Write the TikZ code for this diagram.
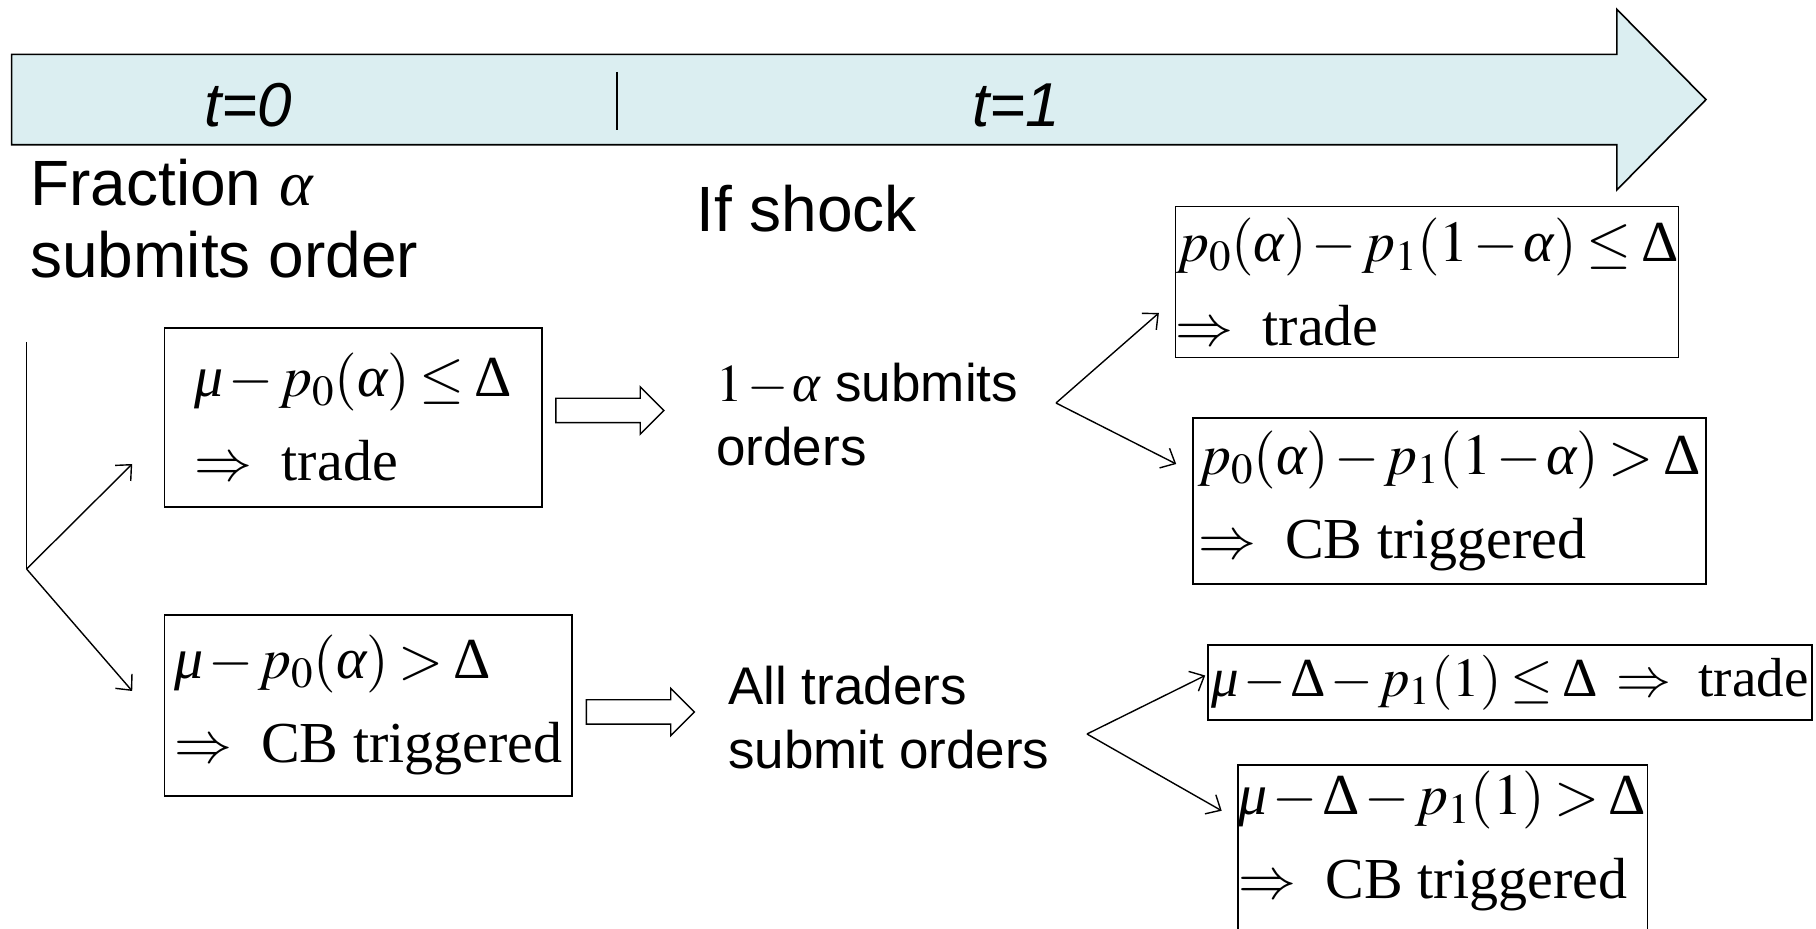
\documentclass[tikz,border=0pt]{standalone}
\usepackage{mathptmx}
\usepackage{fontspec}
\setmainfont{Liberation Serif}
\setsansfont{Liberation Sans}
\usetikzlibrary{arrows.meta,positioning,calc,shapes.arrows}

\definecolor{timefill}{RGB}{219,238,241}
% tighter spacing round - and <=, as in the formulas of the slide
\medmuskip=1.5mu
\thickmuskip=3mu
% Greek letters taken from the Times-like text face
\newcommand\galpha{\mbox{\rmfamily\itshape α}}
\newcommand\gmu{\mbox{\rmfamily\itshape μ}}
\newcommand\gDelta{\mbox{\rmfamily Δ}}

\begin{document}
\begin{tikzpicture}[
  x=0.5pt, y=-0.5pt,
  every node/.style={inner sep=0pt},
  lbl/.style={font=\sffamily\fontsize{32}{36}\selectfont,align=left,anchor=base west},
  small lbl/.style={lbl,font=\sffamily\fontsize{26.5}{32}\selectfont},
  tlab/.style={font=\sffamily\itshape\fontsize{31}{36}\selectfont,anchor=base},
  cond/.style={draw,line width=0.8pt,align=left,font=\rmfamily\fontsize{29}{42}\selectfont},
  arr/.style={-{Straight Barb[length=6pt,width=11pt]},line width=0.7pt},
  fatarr/.style={draw,line width=0.7pt,single arrow,single arrow head extend=5.75pt,
    inner xsep=0pt,inner ysep=5.75pt,minimum height=54pt}
]
\useasboundingbox (0,0) rectangle (1816,929);

% ---------- time line ----------
\draw[line width=0.8pt,fill=timefill] (11.6,54.4) -- (1616.8,54.4) -- (1616.8,9.3)
  -- (1706,99.6) -- (1616.8,190) -- (1616.8,144.8) -- (11.6,144.8) -- cycle;
\draw[line width=0.8pt] (617,72) -- (617,130);
\node[tlab] (t0) at (248,127) {t=0};
\node[tlab] (t1) at (1016,127) {t=1};

% ---------- t=0 ----------
\node[lbl] (frac) at (30,278) {Fraction $\galpha$\\submits order};
\coordinate (stem) at (26.6,342);
\coordinate (fork) at (26.6,569);

\node[cond,minimum width=188.75pt,minimum height=89.5pt] (ltrade) at (353.25,417.5)
  {$\gmu-p_0(\galpha)\le\gDelta$\\$\Rightarrow$\enspace trade};
\node[cond,minimum width=203.75pt,minimum height=90.5pt] (lcb) at (368.25,705.5)
  {$\gmu-p_0(\galpha)>\gDelta$\\$\Rightarrow$\enspace CB triggered};

\draw[line width=0.7pt] (stem) -- (fork);
\draw[arr] (fork) -- ($(ltrade.west)+(-31.5,46.5)$);
\draw[arr] (fork) -- ($(lcb.west)+(-31.5,-14.5)$);

\node[fatarr] (go1) at ($(ltrade.east)+(61,-7)$) {};
\node[fatarr] (go2) at ($(lcb.east)+(61.5,6.5)$) {};

% ---------- t=1 ----------
\node[lbl] (shock) at (696,232) {If shock};
\node[small lbl] (rest) at (716,466) {$1-\galpha$ submits\\orders};
\node[small lbl] (all) at (728,769) {All traders\\submit orders};

\coordinate (fork1) at (1056,403);
\coordinate (fork2) at (1087,734);

\node[cond,minimum width=249pt,minimum height=75.5pt] (rtrade) at (1427,282)
  {$p_0(\galpha)-p_1(1-\galpha)\le\gDelta$\\$\Rightarrow$\enspace trade};
\node[cond,minimum width=256.5pt,minimum height=83pt] (rcb) at (1449.5,501)
  {$p_0(\galpha)-p_1(1-\galpha)>\gDelta$\\$\Rightarrow$\enspace CB triggered};
\node[cond,font=\rmfamily\fontsize{27.5}{42}\selectfont,minimum width=302pt,minimum height=37.5pt]
  (alltrade) at (1510,682.5)
  {$\gmu-\gDelta-p_1(1)\le\gDelta\;\Rightarrow$\enspace trade};
\node[cond,draw=none,minimum width=204pt,minimum height=74.75pt] (allcb) at (1442.5,840.75)
  {$\gmu-\gDelta-p_1(1)>\gDelta$\\$\Rightarrow$\enspace CB triggered};
\draw[line width=0.8pt] ($(allcb.south west)+(0,40)$) -- (allcb.north west)
  -- (allcb.north east) -- ($(allcb.south east)+(0,40)$);

\draw[arr] (fork1) -- ($(rtrade.west)+(-16,31)$);
\draw[arr] (fork1) -- ($(rcb.west)+(-16,-37)$);
\draw[arr] (fork2) -- ($(alltrade.west)+(-2,-7)$);
\draw[arr] (fork2) -- ($(allcb.west)+(-16,-30)$);

\end{tikzpicture}
\end{document}
